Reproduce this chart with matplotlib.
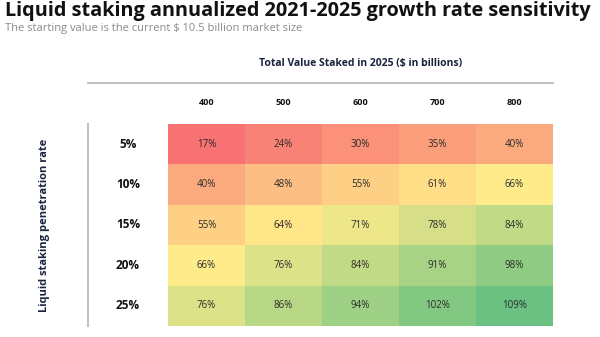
import numpy as np
import matplotlib.pyplot as plt
from matplotlib.colors import LinearSegmentedColormap, TwoSlopeNorm

# sensitivity grid: rows = penetration rate, cols = total value staked ($bn)
rates = ["5%", "10%", "15%", "20%", "25%"]
values_bn = ["400", "500", "600", "700", "800"]
growth = np.array([
    [17, 24, 30, 35, 40],
    [40, 48, 55, 61, 66],
    [55, 64, 71, 78, 84],
    [66, 76, 84, 91, 98],
    [76, 86, 94, 102, 109],
])

cmap = LinearSegmentedColormap.from_list("ryg", ["#F8696B", "#FFEB84", "#63BE7B"])
norm = TwoSlopeNorm(vmin=growth.min(), vcenter=np.median(growth), vmax=growth.max())

fig = plt.figure(figsize=(6, 3.37), dpi=100)
plt.rcParams['font.family'] = ['Open Sans', 'DejaVu Sans']

ax = fig.add_axes([168/600, 11/337, 385/600, 202/337])
ax.pcolormesh(np.arange(6), np.arange(6), growth, cmap=cmap, norm=norm, alpha=0.95)
ax.set_xlim(0, 5)
ax.set_ylim(5, 0)
ax.axis("off")

for i in range(5):
    for j in range(5):
        ax.text(j + 0.5, i + 0.5, f"{growth[i, j]}%", ha="center", va="center",
                fontsize=7, color="#2b2b2b")
    ax.text(-0.52, i + 0.5, rates[i], ha="center", va="center", fontsize=8.5,
            fontweight="bold", color="#111111")
for j in range(5):
    ax.text(j + 0.5, -0.52, values_bn[j], ha="center", va="center", fontsize=6.5,
            fontweight="bold", color="#111111")

ax.plot([-1.04, 5], [-1.01, -1.01], color="#c4c4c4", lw=1.5, clip_on=False)
ax.plot([-1.04, -1.04], [0, 5], color="#c4c4c4", lw=1.5, clip_on=False)

ax.text(2.5, -1.5, "Total Value Staked in 2025 ($ in billions)", ha="center", va="center",
        fontsize=7.5, fontweight="bold", color="#1a2340")
ax.text(-1.61, 2.5, "Liquid staking penetration rate", ha="center", va="center",
        rotation=90, fontsize=8, fontweight="bold", color="#1a2340")

fig.text(5/600, 1 - 11/337, "Liquid staking annualized 2021-2025 growth rate sensitivity",
         ha="left", va="center", fontsize=14.3, fontweight="bold", color="#111111")
fig.text(5/600, 1 - 28/337, "The starting value is the current $ 10.5 billion market size",
         ha="left", va="center", fontsize=8, color="#8a8a8a")

fig.savefig("out.png", dpi=100)
